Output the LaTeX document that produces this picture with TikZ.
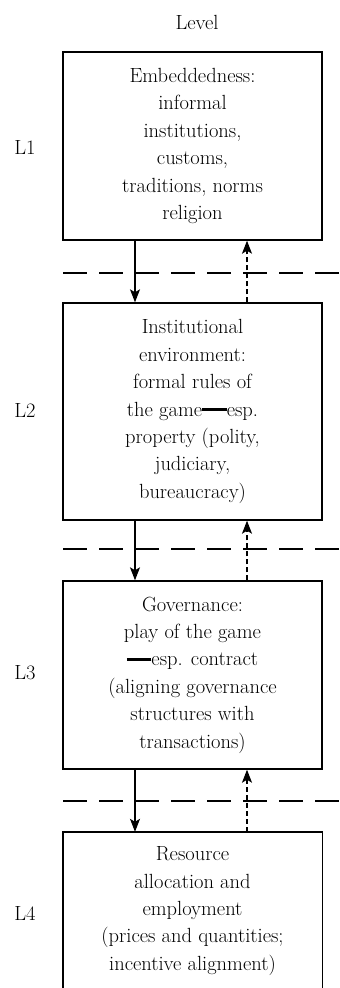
\documentclass[tikz,border=0pt]{standalone}
\usetikzlibrary{arrows.meta}
\newcommand\bdash{\rule[0.25em]{1.2em}{0.12em}}
\begin{document}
\begin{tikzpicture}[x=1pt,y=-1pt,
  lvlbox/.style={draw, line width=1.4pt, minimum width=259pt, inner sep=0pt, align=center, font=\fontsize{20.5}{27.4}\selectfont},
  opnbox/.style={minimum width=259pt, minimum height=158pt, inner sep=0pt, align=center, font=\fontsize{20.5}{27.4}\selectfont},
  lbl/.style={font=\fontsize{20.5}{24}\selectfont, inner sep=0pt},
  sepline/.style={line width=1.1pt, dash pattern=on 24pt off 12pt},
  down/.style={line width=1.1pt, -{Stealth[length=13pt, width=10pt, inset=3pt]}},
  up/.style={line width=1.1pt, dash pattern=on 5pt off 3pt, -{Stealth[length=13pt, width=10pt, inset=3pt]}}]
\useasboundingbox (0,0) rectangle (340,988);
\node[lbl] (level) at (197,22) {Level};
\node[lbl] (l1) at (25,147) {L1};
\node[lbl] (l2) at (25,410) {L2};
\node[lbl] (l3) at (25,673) {L3};
\node[lbl] (l4) at (25,913) {L4};
\node[lvlbox, minimum height=188pt] (b1) at (192.5,146) {Embeddedness:\\informal\\institutions,\\customs,\\traditions, norms\\religion};
\node[lvlbox, minimum height=217pt] (b2) at (192.5,411.5) {Institutional\\environment:\\formal rules of\\the game\bdash esp.\\property (polity,\\judiciary,\\bureaucracy)};
\node[lvlbox, minimum height=188pt] (b3) at (192.5,675) {Governance:\\play of the game\\\bdash esp. contract\\(aligning governance\\structures with\\transactions)};
\node[opnbox] (b4) at (192.5,911) {Resource\\allocation and\\employment\\(prices and quantities;\\incentive alignment)};
\draw[line width=1.4pt] (b4.north west |- 0,988) -- (b4.north west) -- (b4.north east) -- (b4.north east |- 0,988);
\coordinate (s1a) at (63,273); \coordinate (s1b) at (340,273);
\coordinate (s2a) at (63,549); \coordinate (s2b) at (340,549);
\coordinate (s3a) at (63,801); \coordinate (s3b) at (340,801);
\draw[sepline] (s1a) -- (s1b);
\draw[sepline] (s2a) -- (s2b);
\draw[sepline] (s3a) -- (s3b);
\draw[down] ([xshift=-57.5pt]b1.south) -- ([xshift=-57.5pt]b2.north);
\draw[down] ([xshift=-57.5pt]b2.south) -- ([xshift=-57.5pt]b3.north);
\draw[down] ([xshift=-57.5pt]b3.south) -- ([xshift=-57.5pt]b4.north);
\draw[up] ([xshift=54.5pt]b2.north) -- ([xshift=54.5pt]b1.south);
\draw[up] ([xshift=54.5pt]b3.north) -- ([xshift=54.5pt]b2.south);
\draw[up] ([xshift=54.5pt]b4.north) -- ([xshift=54.5pt]b3.south);
\end{tikzpicture}
\end{document}
